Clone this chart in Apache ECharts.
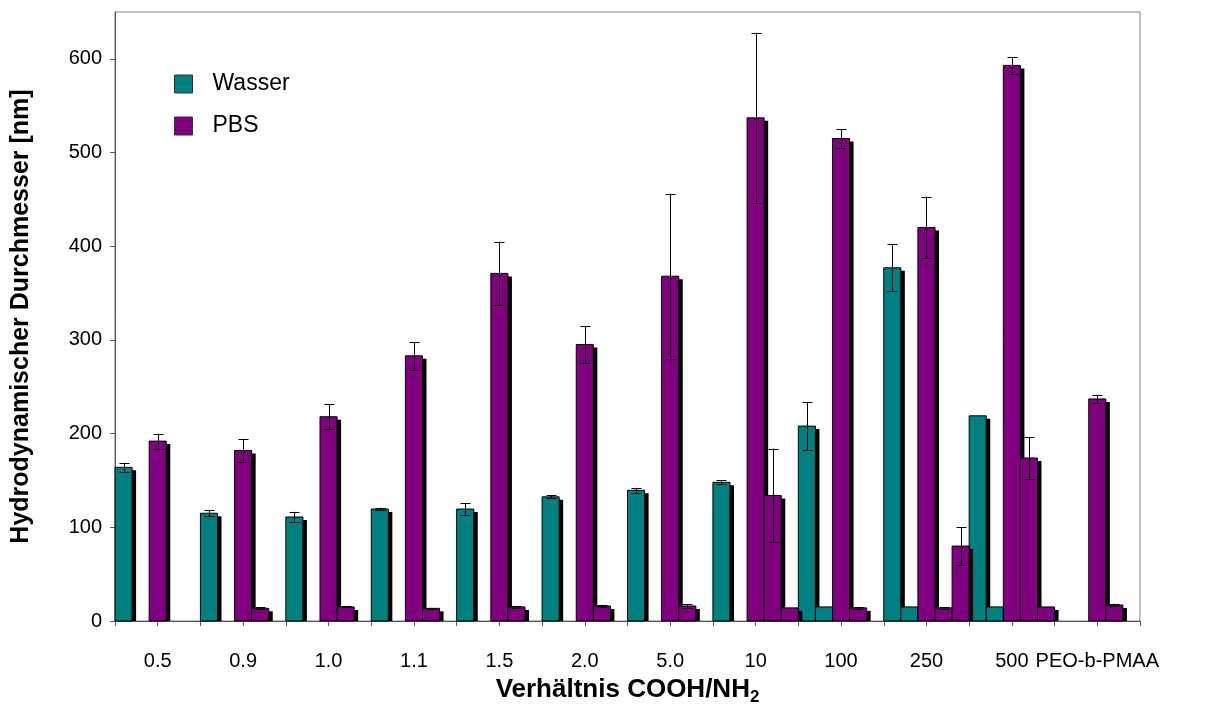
<!DOCTYPE html>
<html>
<head>
<meta charset="utf-8">
<script src="https://cdn.jsdelivr.net/npm/echarts@6/dist/echarts.min.js"></script>
<style>
html,body{margin:0;padding:0;background:#fff;}
#chart{width:1205px;height:713px;}
</style>
</head>
<body>
<div id="chart"></div>
<script>
// ---- data ----
const categories = ['0.5','0.9','1.0','1.1','1.5','2.0','5.0','10','100','250','500','PEO-b-PMAA'];
const yTicks = [0,100,200,300,400,500,600];

// Wasser, first peak
const wasser1    = [164, 115, 111, 119.5, 119.5, 132.5, 139.5, 148, 208, 377, 219, null];
const wasser1Err = [5,   3,   5.5, 1.5,   6,     1.5,   2.5,   2,   25.5, 25, 0,   null];
// Wasser, second peak
const wasser2    = [null, null, null, null, null, null, null, null, 15, 15, 15, null];
const wasser2Err = [null, null, null, null, null, null, null, null, 0,  0,  0,  null];
// PBS, first peak
const pbs1    = [192, 182, 218, 283, 371, 295, 368, 537, 515, 420, 593, 237];
const pbs1Err = [8,   12.5, 13.5, 14.7, 34, 20, 88,  91,  10,  33,  9,   4.5];
// PBS, second peak
const pbs2    = [null, 13.5, 15, 13.5, 15, 16, 16, 134, 14, 14, 174, 17];
const pbs2Err = [null, 1,    0.5, 0.5, 1, 1,  2,  50,  1,  1,  22,  1.5];
// PBS, third peak
const pbs3    = [null, null, null, null, null, null, null, 14, null, 80, 15, null];
const pbs3Err = [null, null, null, null, null, null, null, 0,  null, 20, 0,  null];

const TEAL = '#008080';
const PURPLE = '#800080';
const N_SLOTS = 5;

function makeRender(slot, color) {
  return function (params, api) {
    const v = api.value(1);
    if (v == null || isNaN(v)) return;
    const ci = api.value(0);
    const bandW = api.size([1, 0])[0];
    const base = api.coord([ci, 0]);
    const top = api.coord([ci, v]);
    const w = bandW / N_SLOTS;
    const x = base[0] - bandW / 2 + slot * w;
    const y0 = base[1];
    const y1 = top[1];
    const children = [];
    const sx = 4, sy = 3;
    if (y0 - y1 - sy > 0) {
      children.push({type: 'rect', shape: {x: x + sx, y: y1 + sy, width: w, height: y0 - y1 - sy}, style: {fill: '#000'}});
    }
    children.push({type: 'rect', shape: {x: x, y: y1, width: w, height: y0 - y1}, style: {fill: color, stroke: '#000', lineWidth: 1}});
    const e = api.value(2);
    if (e && !isNaN(e) && e > 0) {
      const yt = api.coord([ci, v + e])[1];
      const yb = api.coord([ci, Math.max(0, v - e)])[1];
      const cx = Math.round(x + w / 2) + 0.5;
      const hw = 5;
      const ls = {stroke: '#000', lineWidth: 1};
      children.push({type: 'line', shape: {x1: cx, y1: yt, x2: cx, y2: yb}, style: ls});
      children.push({type: 'line', shape: {x1: cx - hw, y1: Math.round(yt) + 0.5, x2: cx + hw, y2: Math.round(yt) + 0.5}, style: ls});
      children.push({type: 'line', shape: {x1: cx - hw, y1: Math.round(yb) + 0.5, x2: cx + hw, y2: Math.round(yb) + 0.5}, style: ls});
    }
    return {type: 'group', children: children};
  };
}

function mkData(vals, errs) {
  return vals.map((v, i) => [i, v == null ? NaN : v, errs[i] == null ? 0 : errs[i]]);
}

function mkSeries(name, slot, color, vals, errs) {
  return {
    type: 'custom',
    name: name,
    color: color,
    xAxisIndex: 0,
    yAxisIndex: 0,
    renderItem: makeRender(slot, color),
    encode: {x: 0, y: 1},
    data: mkData(vals, errs),
    clip: false
  };
}

const chart = echarts.init(document.getElementById('chart'), null, {renderer: 'canvas'});
const FONT = 'Liberation Sans, Arial, sans-serif';

const option = {
  animation: false,
  backgroundColor: '#fff',
  textStyle: {fontFamily: FONT, color: '#000'},
  grid: {left: 115, right: 65, top: 12, bottom: 92, show: true, borderColor: '#808080', borderWidth: 1, backgroundColor: 'transparent'},
  legend: {
    orient: 'vertical',
    left: 174, top: 72,
    padding: 0,
    itemWidth: 18, itemHeight: 18, itemGap: 18,
    textStyle: {fontSize: 23, lineHeight: 24, color: '#000', fontFamily: FONT, padding: [0, 0, 0, 15]},
    data: [
      {name: 'Wasser', icon: 'rect', itemStyle: {color: TEAL, borderColor: '#333', borderWidth: 1}},
      {name: 'PBS', icon: 'rect', itemStyle: {color: PURPLE, borderColor: '#333', borderWidth: 1}}
    ],
    selectedMode: false
  },
  xAxis: [
    {
      type: 'category',
      data: categories,
      position: 'bottom',
      boundaryGap: true,
      axisLine: {show: true, lineStyle: {color: '#555', width: 1}},
      axisTick: {show: false},
      axisLabel: {fontSize: 20, color: '#000', margin: 30, interval: 0, fontFamily: FONT},
      name: 'Verhältnis COOH/NH{sub|2}',
      nameLocation: 'middle',
      nameGap: 53,
      nameTextStyle: {
        fontSize: 26, fontWeight: 'bold', color: '#000', fontFamily: FONT,
        rich: {sub: {fontSize: 17, fontWeight: 'bold', color: '#000', fontFamily: FONT, padding: [15, 0, 0, 0]}}
      },
      splitLine: {show: false}
    },
    {
      type: 'category',
      data: new Array(categories.length * 2).fill(''),
      position: 'bottom',
      boundaryGap: true,
      axisLine: {show: true, lineStyle: {color: '#555', width: 1}},
      axisTick: {show: true, length: 5, interval: 0, lineStyle: {color: '#555'}},
      axisLabel: {show: false},
      splitLine: {show: false}
    }
  ],
  yAxis: {
    type: 'value',
    min: 0, max: 650, interval: 100,
    axisLine: {show: true, lineStyle: {color: '#555', width: 1}},
    axisTick: {show: true, length: 5, inside: false, customValues: yTicks, lineStyle: {color: '#555'}},
    axisLabel: {fontSize: 20, color: '#000', margin: 13, customValues: yTicks, fontFamily: FONT},
    splitLine: {show: false},
    name: 'Hydrodynamischer Durchmesser [nm]',
    nameLocation: 'middle',
    nameGap: 81,
    nameTextStyle: {fontSize: 25, fontWeight: 'bold', color: '#000', fontFamily: FONT}
  },
  series: [
    mkSeries('Wasser', 0, TEAL, wasser1, wasser1Err),
    mkSeries('Wasser', 1, TEAL, wasser2, wasser2Err),
    mkSeries('PBS', 2, PURPLE, pbs1, pbs1Err),
    mkSeries('PBS', 3, PURPLE, pbs2, pbs2Err),
    mkSeries('PBS', 4, PURPLE, pbs3, pbs3Err)
  ]
};
chart.setOption(option);
</script>
</body>
</html>
